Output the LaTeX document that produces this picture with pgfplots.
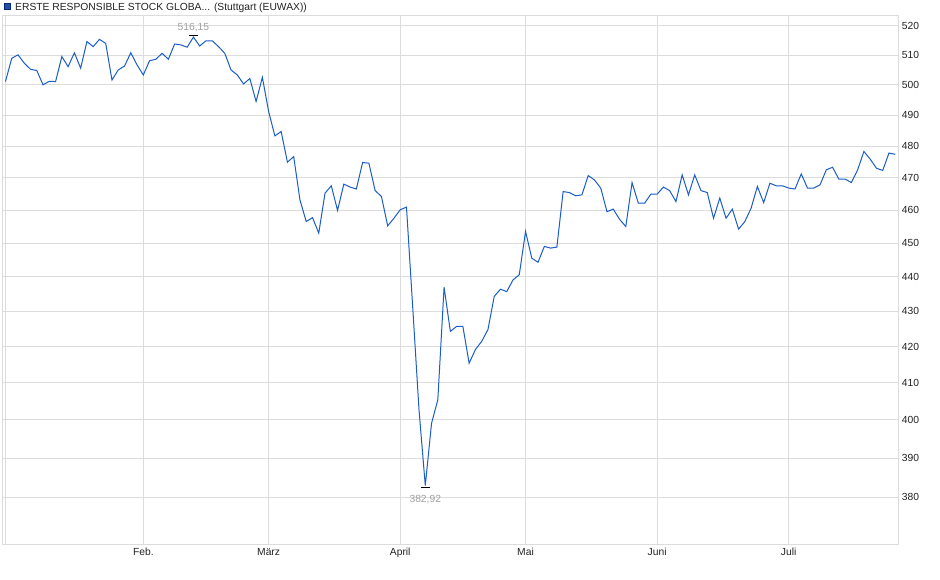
\documentclass[border=0pt]{standalone}
\usepackage{fontspec}
\setmainfont{Liberation Sans}
\usepackage{pgfplots}
\pgfplotsset{compat=1.18}
\definecolor{lineblue}{HTML}{1A5CC8}
\definecolor{gridgray}{HTML}{DCDCDC}
\definecolor{anngray}{HTML}{A0A0A0}
\definecolor{labelc}{HTML}{222222}
\definecolor{legfill}{HTML}{1E50B4}
\definecolor{legdraw}{HTML}{0A2870}
\newcommand{\chartfont}{\fontsize{10.3pt}{12pt}\selectfont}
\begin{document}
\begin{tikzpicture}
\useasboundingbox (-2.7pt,-34pt) rectangle (937.3pt,545pt);
\begin{axis}[
  at={(0pt,0pt)}, anchor=south west,
  scale only axis, width=895.6pt, height=529pt,
  xmin=-0.44, xmax=142.49,
  ymode=log, ymin=368.1, ymax=523.5,
  xtick={22,42,63,83,104,125},
  xticklabels={Feb.,März,April,Mai,Juni,Juli},
  extra x ticks={0}, extra x tick labels={},
  extra x tick style={xmajorgrids=true},
  ytick={380,390,400,410,420,430,440,450,460,470,480,490,500,510,520},
  yticklabels={380,390,400,410,420,430,440,450,460,470,480,490,500,510,520},
  yticklabel pos=right,
  xmajorgrids, ymajorgrids,
  major grid style={gridgray, line width=1pt},
  axis line style={gridgray, line width=1pt},
  major tick length=0pt, minor tick num=0,
  tick label style={font=\chartfont, text=labelc},
  /pgf/number format/assume math mode=true,
]
\addplot[lineblue, line width=1pt, mark=none] table[x=i, y=v] {
i v
0 501.1
1 508.9
2 510.1
3 507.3
4 505.2
5 504.8
6 500.0
7 501.2
8 501.1
9 509.5
10 506.1
11 510.8
12 505.6
13 514.6
14 512.9
15 515.4
16 514.0
17 501.6
18 505.0
19 506.3
20 510.8
21 506.7
22 503.3
23 508.1
24 508.6
25 510.6
26 508.6
27 513.8
28 513.5
29 512.7
30 516.15
31 513.1
32 514.9
33 514.9
34 512.9
35 510.6
36 505.0
37 503.3
38 500.3
39 502.1
40 494.5
41 502.5
42 491.2
43 483.3
44 484.7
45 474.9
46 476.7
47 463.1
48 456.5
49 457.7
50 453.0
51 465.2
52 467.5
53 459.9
54 468.0
55 467.1
56 466.5
57 474.8
58 474.6
59 466.0
60 464.2
61 455.2
62 457.5
63 460.1
64 460.9
65 431.0
66 402.7
67 382.92
68 399.2
69 405.4
70 437.0
71 424.3
72 425.7
73 425.7
74 415.4
75 419.2
76 421.5
77 424.8
78 434.3
79 436.4
80 435.7
81 439.1
82 440.6
83 453.5
84 445.5
85 444.3
86 449.0
87 448.5
88 448.8
89 465.7
90 465.4
91 464.4
92 464.7
93 470.7
94 469.3
95 466.8
96 459.5
97 460.3
98 457.2
99 455.0
100 468.5
101 462.1
102 462.1
103 464.9
104 464.9
105 467.1
106 466.0
107 462.6
108 470.9
109 464.7
110 470.9
111 466.0
112 465.4
113 457.5
114 463.7
115 457.5
116 460.3
117 454.2
118 456.5
119 460.6
120 467.3
121 462.3
122 468.3
123 467.5
124 467.5
125 466.8
126 466.5
127 471.2
128 466.8
129 466.8
130 467.8
131 472.5
132 473.3
133 469.6
134 469.6
135 468.5
136 472.5
137 478.3
138 475.9
139 473.0
140 472.3
141 477.8
142 477.4
};
\addplot[black, line width=1pt, only marks, mark=-, mark size=4.5pt, mark options={yshift=1.2pt}] coordinates {(30,516.15)};
\addplot[black, line width=1pt, only marks, mark=-, mark size=4.5pt, mark options={yshift=-2.2pt}] coordinates {(67,382.92)};
\node[text=anngray, anchor=base, yshift=6.5pt, font=\chartfont, inner sep=0pt] at (axis cs:30,516.15) {516,15};
\node[text=anngray, anchor=base, yshift=-16.5pt, font=\chartfont, inner sep=0pt] at (axis cs:67,382.92) {382,92};
\end{axis}
\fill[legfill, draw=legdraw, line width=0.8pt] (1.6pt,535.3pt) rectangle (8.0pt,541.7pt);
\node[anchor=base west, inner sep=0pt, font=\chartfont, text=labelc] at (12.3pt,534.3pt) {ERSTE RESPONSIBLE STOCK GLOBA... (Stuttgart (EUWAX))};
\end{tikzpicture}
\end{document}
